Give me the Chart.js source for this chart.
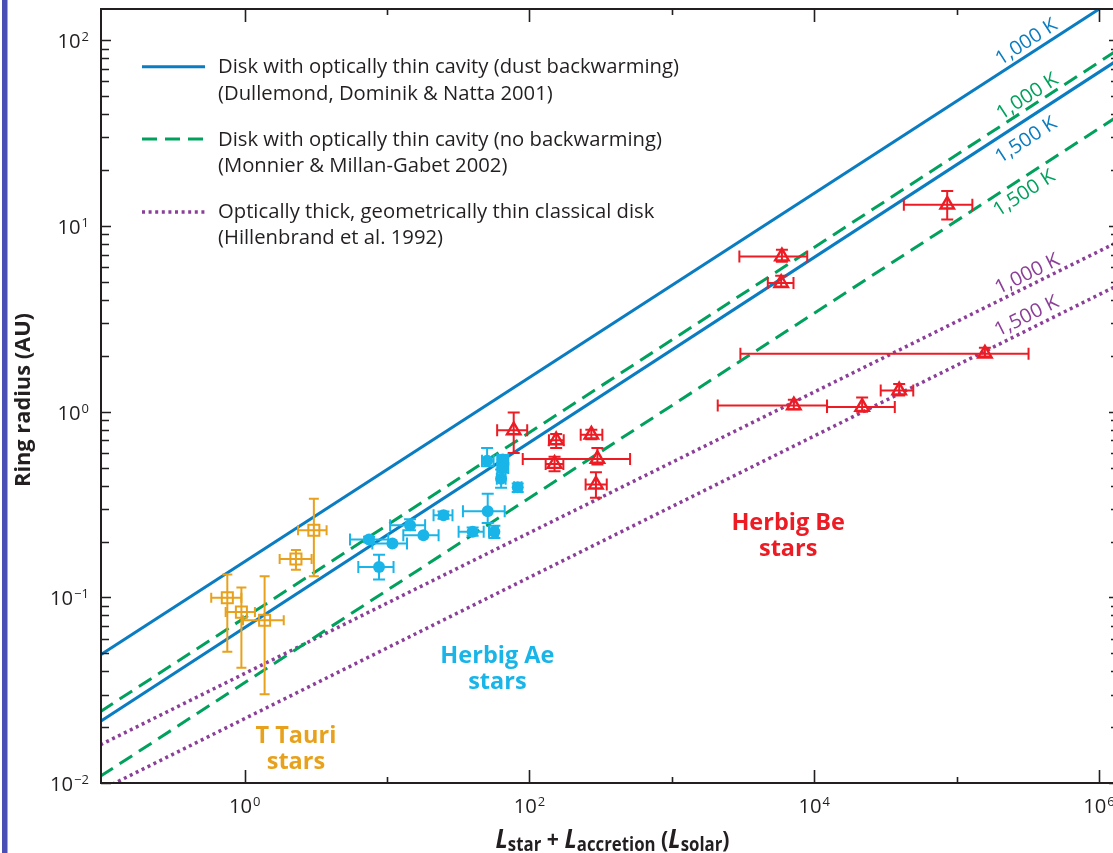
<!DOCTYPE html>
<html lang="en">
<head>
  <meta charset="UTF-8">
  <title>Ring radius vs luminosity</title>
  <script src="https://cdn.jsdelivr.net/npm/chart.js"></script>
  <style>
    html, body { margin: 0; padding: 0; overflow: hidden; background: #fff; }
    #wrap { position: relative; width: 1122px; height: 853px; }
  </style>
</head>
<body>
  <div id="wrap"><canvas id="ringChart" width="1122" height="853"></canvas></div>

  <script>
    // ---- values ----
    // model lines (straight in log-log): luminosity at both ends, ring radius at both ends
    const lineEndsL     = [0.0968, 1.3e6];
    const dustWarm1000  = [0.0491, 167];
    const dustWarm1500  = [0.0215, 76.5];
    const noWarm1000    = [0.0243, 86.6];
    const noWarm1500    = [0.0109, 38.1];
    const thickDisk1000 = [0.0161, 8.06];
    const thickDisk1500 = [0.00917, 4.71];

    // T Tauri stars
    const ttL   = [3.06, 2.29, 0.755, 0.948, 1.38];
    const ttR   = [0.230, 0.161, 0.0996, 0.0834, 0.0755];
    const ttLlo = [2.37, 1.76, 0.582, 0.735, 0.973];
    const ttLhi = [3.76, 2.95, 0.948, 1.18, 1.88];
    const ttRlo = [0.130, 0.141, 0.051, 0.0419, 0.0301];
    const ttRhi = [0.340, 0.180, 0.133, 0.113, 0.130];

    // Herbig Ae stars
    const aeL   = [50.4, 64.9, 64.9, 63.2, 82.7, 50.9, 24.9, 14.5, 18.0, 39.9, 56.7, 7.47, 10.9, 8.78];
    const aeR   = [0.545, 0.552, 0.498, 0.436, 0.392, 0.291, 0.277, 0.245, 0.216, 0.226, 0.226, 0.205, 0.195, 0.146];
    const aeLlo = [46.4, 59.4, 59.4, 59.0, 78.0, 34.1, 21.2, 10.5, 13.0, 31.8, 52.0, 5.49, 7.88, 6.28];
    const aeLhi = [56.0, 71.0, 71.0, 68.0, 88.0, 67.0, 28.8, 18.5, 23.0, 47.7, 60.0, 10.2, 13.8, 11.1];
    const aeRlo = [0.508, 0.518, 0.470, 0.389, 0.370, 0.252, 0.265, 0.230, 0.216, 0.215, 0.209, 0.198, 0.195, 0.125];
    const aeRhi = [0.638, 0.585, 0.530, 0.488, 0.410, 0.362, 0.290, 0.264, 0.216, 0.238, 0.243, 0.212, 0.195, 0.170];

    // Herbig Be stars
    const beL   = [77.5, 154, 272, 150, 300, 293, 5930, 5860, 158000, 7190, 21700, 39500, 85900];
    const beR   = [0.793, 0.701, 0.752, 0.523, 0.557, 0.405, 6.84, 4.92, 2.05, 1.08, 1.06, 1.30, 13.0];
    const beLlo = [59.3, 137, 229, 130, 89.7, 248, 2980, 4720, 3030, 2100, 12300, 29300, 42600];
    const beLhi = [96.4, 174, 325, 173, 509, 349, 8930, 7150, 320000, 12300, 36800, 49600, 129000];
    const beRlo = [0.600, 0.638, 0.710, 0.478, 0.519, 0.344, 6.40, 4.70, 1.98, 1.03, 1.00, 1.22, 10.8];
    const beRhi = [0.991, 0.759, 0.800, 0.571, 0.638, 0.472, 7.43, 5.39, 2.21, 1.16, 1.19, 1.41, 15.4];

    // axis decades
    const xTickExps  = [0, 1, 2, 3, 4, 5, 6];
    const xLabelExps = [0, 2, 4, 6];
    const yLabelExps = [-2, -1, 0, 1, 2];

    const legendItems = [
      ['Disk with optically thin cavity (dust backwarming)', '(Dullemond, Dominik & Natta 2001)'],
      ['Disk with optically thin cavity (no backwarming)', '(Monnier & Millan-Gabet 2002)'],
      ['Optically thick, geometrically thin classical disk', '(Hillenbrand et al. 1992)']
    ];

    const C_TEXT = '#231f20';
    const C_BLUE = '#0a7cc1';
    const C_GREEN = '#00a15c';
    const C_PURPLE = '#8b3f98';
    const C_RED = '#ed1c24';
    const C_CYAN = '#19b5e9';
    const C_ORANGE = '#e8a11c';
    const FONT = '"Open Sans", "Noto Sans", sans-serif';

    const pts = (xs, ys) => xs.map((v, i) => ({ x: v, y: ys[i] }));

    function modelLine(r, color, dash, width) {
      return {
        data: pts(lineEndsL, r), showLine: true, borderColor: color, borderWidth: width,
        borderDash: dash, borderCapStyle: 'butt', pointRadius: 0, fill: false
      };
    }

    // text helper with horizontal squeeze (reference font is narrower)
    function drawText(ctx, s, x, y, font, color, align, sx) {
      ctx.save();
      ctx.font = font;
      ctx.fillStyle = color;
      ctx.textAlign = 'left';
      ctx.textBaseline = 'alphabetic';
      const w = ctx.measureText(s).width * sx;
      const x0 = align === 'center' ? x - w / 2 : align === 'right' ? x - w : x;
      ctx.translate(x0, y);
      ctx.scale(sx, 1);
      ctx.fillText(s, 0, 0);
      ctx.restore();
      return w;
    }

    function powWidth(ctx, e, sx) {
      ctx.font = '19.5px ' + FONT;
      const w1 = ctx.measureText('10').width;
      ctx.font = '12.5px ' + FONT;
      const w2 = ctx.measureText(String(e).replace('-', '\u2212')).width;
      return (w1 + w2 + 1) * sx;
    }

    function drawPow(ctx, e, x, y, sx) {
      const w = drawText(ctx, '10', x, y, '19.5px ' + FONT, C_TEXT, 'left', sx);
      drawText(ctx, String(e).replace('-', '\u2212'), x + w + 1, y - 7, '12.5px ' + FONT, C_TEXT, 'left', sx);
    }

    // error bars drawn just before each scatter set
    const errorBars = {
      id: 'errorBars',
      beforeDatasetDraw(chart, args) {
        const ds = chart.data.datasets[args.index];
        if (!ds.err) return;
        const ctx = chart.ctx, xs = chart.scales.x, ys = chart.scales.y, e = ds.err;
        ctx.save();
        ctx.strokeStyle = e.color;
        ctx.lineWidth = e.width;
        ctx.lineCap = 'butt';
        ds.data.forEach((p, i) => {
          const x = xs.getPixelForValue(p.x), y = ys.getPixelForValue(p.y);
          const xl = xs.getPixelForValue(e.Llo[i]), xh = xs.getPixelForValue(e.Lhi[i]);
          const yl = ys.getPixelForValue(e.Rlo[i]), yh = ys.getPixelForValue(e.Rhi[i]);
          ctx.beginPath();
          if (Math.abs(xh - xl) > 1) {
            ctx.moveTo(xl, y); ctx.lineTo(xh, y);
            ctx.moveTo(xl, y - e.cap); ctx.lineTo(xl, y + e.cap);
            ctx.moveTo(xh, y - e.cap); ctx.lineTo(xh, y + e.cap);
          }
          if (Math.abs(yh - yl) > 1) {
            ctx.moveTo(x, yl); ctx.lineTo(x, yh);
            ctx.moveTo(x - e.cap, yl); ctx.lineTo(x + e.cap, yl);
            ctx.moveTo(x - e.cap, yh); ctx.lineTo(x + e.cap, yh);
          }
          ctx.stroke();
        });
        ctx.restore();
      }
    };

    // frame, ticks, labels, legend, annotations
    const decor = {
      id: 'decor',
      afterDraw(chart) {
        const ctx = chart.ctx, xs = chart.scales.x, ys = chart.scales.y, a = chart.chartArea;

        ctx.font = '19.5px ' + FONT;
        const sxReg = 461 / ctx.measureText(legendItems[0][0]).width;
        ctx.font = '700 24px ' + FONT;
        const sxBold = 114 / ctx.measureText('Herbig Ae').width;

        // left colour bar
        ctx.fillStyle = '#4a4fb4';
        ctx.fillRect(2, 0, 5.5, chart.height);

        // frame
        ctx.save();
        ctx.strokeStyle = C_TEXT;
        ctx.lineWidth = 2;
        ctx.beginPath();
        ctx.moveTo(a.right, a.top); ctx.lineTo(a.left, a.top);
        ctx.lineTo(a.left, a.bottom); ctx.lineTo(a.right, a.bottom);
        ctx.lineTo(a.right, a.top);
        ctx.stroke();

        // x ticks (bottom and top, inward)
        ctx.lineWidth = 1.6;
        ctx.beginPath();
        xTickExps.forEach(e => {
          const x = Math.round(xs.getPixelForValue(Math.pow(10, e))) + 0.5;
          const len = e % 2 === 0 ? 13 : 6;
          ctx.moveTo(x, a.bottom); ctx.lineTo(x, a.bottom - len);
          ctx.moveTo(x, a.top); ctx.lineTo(x, a.top + len);
        });
        // y ticks (left and right, inward), minor 2..9
        for (let e = -2; e <= 2; e++) {
          for (let m = 1; m <= 9; m++) {
            const v = m * Math.pow(10, e);
            if (v > ys.max) break;
            const y = Math.round(ys.getPixelForValue(v)) + 0.5;
            const len = m === 1 ? 10 : 8;
            ctx.moveTo(a.left, y); ctx.lineTo(a.left + len, y);
            ctx.moveTo(a.right, y); ctx.lineTo(a.right - len, y);
          }
        }
        ctx.stroke();
        ctx.restore();

        // tick labels
        yLabelExps.forEach(e => {
          const y = ys.getPixelForValue(Math.pow(10, e));
          const w = powWidth(ctx, e, sxReg);
          drawPow(ctx, e, 89 - w, y + 8, sxReg);
        });
        xLabelExps.forEach(e => {
          const x = xs.getPixelForValue(Math.pow(10, e));
          const w = powWidth(ctx, e, sxReg);
          drawPow(ctx, e, x - w / 2, a.bottom + 30, sxReg);
        });

        // y axis title
        ctx.save();
        ctx.translate(30, 400);
        ctx.rotate(-Math.PI / 2);
        ctx.font = '700 21px ' + FONT;
        const yt = 'Ring radius (AU)';
        const syt = 174 / ctx.measureText(yt).width;
        drawText(ctx, yt, 0, 0, '700 21px ' + FONT, C_TEXT, 'center', syt);
        ctx.restore();

        // x axis title: L_star + L_accretion (L_solar)
        const big = 'italic 700 27px ' + FONT, sub = '700 19px ' + FONT, mid = '700 24px ' + FONT;
        const parts = [
          ['L', big, 0], ['star', sub, 3], [' + ', mid, 0], ['L', big, 0], ['accretion', sub, 3],
          [' (', mid, 0], ['L', big, 0], ['solar', sub, 3], [')', mid, 0]
        ];
        let total = 0;
        parts.forEach(p => { ctx.font = p[1]; total += ctx.measureText(p[0]).width; });
        const sxt = 234 / total;
        let px = 612.5 - 117;
        parts.forEach(p => {
          px += drawText(ctx, p[0], px, 848 + p[2], p[1], C_TEXT, 'left', sxt);
        });

        // legend
        const legStyles = [[C_BLUE, [], 3], [C_GREEN, [15, 8], 3], [C_PURPLE, [3, 3.6], 3.5]];
        const legY = [66.7, 139, 212];
        const legBase = [[73, 99.5], [145.5, 171.5], [218, 244]];
        legendItems.forEach((item, i) => {
          ctx.save();
          ctx.strokeStyle = legStyles[i][0];
          ctx.setLineDash(legStyles[i][1]);
          ctx.lineWidth = legStyles[i][2];
          ctx.beginPath();
          ctx.moveTo(142, legY[i]); ctx.lineTo(205, legY[i]);
          ctx.stroke();
          ctx.restore();
          drawText(ctx, item[0], 218, legBase[i][0], '19.5px ' + FONT, C_TEXT, 'left', sxReg);
          drawText(ctx, item[1], 218, legBase[i][1], '19.5px ' + FONT, C_TEXT, 'left', sxReg);
        });

        // temperature labels along the model lines
        const lineLabels = [
          [dustWarm1000, '1,000 K', C_BLUE, 3.43e5, 13],
          [noWarm1000, '1,000 K', C_GREEN, 3.43e5, 11.5],
          [dustWarm1500, '1,500 K', C_BLUE, 2.64e5, -16],
          [noWarm1500, '1,500 K', C_GREEN, 2.64e5, -12.5],
          [thickDisk1000, '1,000 K', C_PURPLE, 3.4e5, 12.5],
          [thickDisk1500, '1,500 K', C_PURPLE, 3.4e5, 14]
        ];
        lineLabels.forEach(([r, text, color, L, off]) => {
          const x0 = xs.getPixelForValue(lineEndsL[0]), y0 = ys.getPixelForValue(r[0]);
          const x1 = xs.getPixelForValue(lineEndsL[1]), y1 = ys.getPixelForValue(r[1]);
          const ang = Math.atan2(y1 - y0, x1 - x0);
          const lx = xs.getPixelForValue(L);
          const ly = y0 + (lx - x0) / (x1 - x0) * (y1 - y0);
          const cx = lx + Math.sin(ang) * off, cy = ly - Math.cos(ang) * off;
          ctx.save();
          ctx.translate(cx, cy);
          ctx.rotate(ang);
          drawText(ctx, text, 0, 7, '19.5px ' + FONT, color, 'center', sxReg);
          ctx.restore();
        });

        // group names
        const groups = [
          [['Herbig Be', 'stars'], C_RED, 6560, 0.231],
          [['Herbig Ae', 'stars'], C_CYAN, 59.5, 0.0444],
          [['T Tauri', 'stars'], C_ORANGE, 2.29, 0.0165]
        ];
        groups.forEach(([lines, color, L, R]) => {
          const gx = xs.getPixelForValue(L), gy = ys.getPixelForValue(R);
          lines.forEach((s, k) => drawText(ctx, s, gx, gy + k * 26, '700 24px ' + FONT, color, 'center', sxBold));
        });
      }
    };

    const ctx = document.getElementById('ringChart').getContext('2d');
    const ringChart = new Chart(ctx, {
      type: 'scatter',
      data: {
        datasets: [
          {
            data: pts(ttL, ttR), pointStyle: 'rect', pointRadius: 7.8, borderWidth: 2,
            borderColor: C_ORANGE, backgroundColor: 'rgba(0,0,0,0)',
            err: { Llo: ttLlo, Lhi: ttLhi, Rlo: ttRlo, Rhi: ttRhi, cap: 5, width: 2, color: C_ORANGE }
          },
          {
            data: pts(aeL, aeR), pointStyle: 'circle', pointRadius: 6, borderWidth: 0,
            backgroundColor: C_CYAN,
            err: { Llo: aeLlo, Lhi: aeLhi, Rlo: aeRlo, Rhi: aeRhi, cap: 6, width: 2, color: C_CYAN }
          },
          {
            data: pts(beL, beR), pointStyle: 'triangle', pointRadius: 7.8, borderWidth: 2.4,
            borderColor: C_RED, backgroundColor: 'rgba(0,0,0,0)',
            err: { Llo: beLlo, Lhi: beLhi, Rlo: beRlo, Rhi: beRhi, cap: 6, width: 2, color: C_RED }
          },
          modelLine(dustWarm1000, C_BLUE, [], 3),
          modelLine(dustWarm1500, C_BLUE, [], 3),
          modelLine(noWarm1000, C_GREEN, [15, 8], 3),
          modelLine(noWarm1500, C_GREEN, [15, 8], 3),
          modelLine(thickDisk1000, C_PURPLE, [3, 3.6], 3.5),
          modelLine(thickDisk1500, C_PURPLE, [3, 3.6], 3.5)
        ]
      },
      options: {
        responsive: false,
        animation: false,
        events: [],
        layout: { autoPadding: false, padding: { left: 101, top: 9, right: 3, bottom: 70 } },
        plugins: { legend: { display: false }, tooltip: { enabled: false } },
        scales: {
          x: { type: 'logarithmic', min: 0.0968, max: 1.43e6, display: false },
          y: { type: 'logarithmic', min: 0.01, max: 146.8, display: false }
        }
      },
      plugins: [errorBars, decor]
    });

    // pin the decades to where the figure has them (10^0..10^6 across, 10^-2..10^2 up)
    const area = ringChart.chartArea;
    const decX = (1099 - 244.7) / 6;
    const decY = (783.3 - 40) / 4;
    ringChart.options.scales.x.min = Math.pow(10, (area.left - 244.7) / decX);
    ringChart.options.scales.x.max = Math.pow(10, (area.right - 244.7) / decX);
    ringChart.options.scales.y.min = Math.pow(10, 2 - (area.bottom - 40) / decY);
    ringChart.options.scales.y.max = Math.pow(10, 2 + (40 - area.top) / decY);
    ringChart.update();
  </script>
</body>
</html>
